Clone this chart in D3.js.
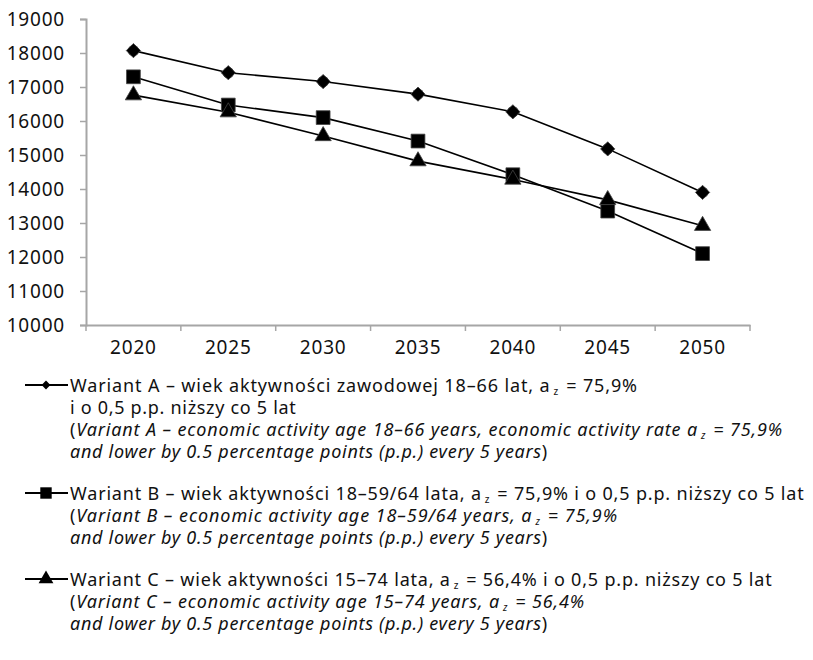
<!DOCTYPE html>
<html><head><meta charset="utf-8">
<script src="https://cdn.jsdelivr.net/npm/d3@7"></script>
<style>body{margin:0;background:#fff;} svg{display:block;}</style>
</head><body>
<svg id="chart" width="813" height="660"></svg>
<script>
const years = ["2020","2025","2030","2035","2040","2045","2050"];
const seriesA = [18070, 17420, 17160, 16790, 16270, 15180, 13900];
const seriesB = [17300, 16470, 16100, 15410, 14420, 13350, 12100];
const seriesC = [16760, 16260, 15560, 14820, 14280, 13680, 12920];
const yTicks = [10000, 11000, 12000, 13000, 14000, 15000, 16000, 17000, 18000, 19000];
const legendLines = {
  A: [
    [["Wariant A – wiek aktywności zawodowej 18–66 lat, a","n"],["z","sub"],["= 75,9%","n"]],
    [["i o 0,5 p.p. niższy co 5 lat","n"]],
    [["(","n"],["Variant A – economic activity age 18–66 years, economic activity rate a","i"],["z","subi"],["= 75,9%","i"]],
    [["and lower by 0.5 percentage points (p.p.) every 5 years","i"],[")","n"]]
  ],
  B: [
    [["Wariant B – wiek aktywności 18–59/64 lata, a","n"],["z","sub"],["= 75,9% i o 0,5 p.p. niższy co 5 lat","n"]],
    [["(","n"],["Variant B – economic activity age 18–59/64 years, a","i"],["z","subi"],["= 75,9%","i"]],
    [["and lower by 0.5 percentage points (p.p.) every 5 years","i"],[")","n"]]
  ],
  C: [
    [["Wariant C – wiek aktywności 15–74 lata, a","n"],["z","sub"],["= 56,4% i o 0,5 p.p. niższy co 5 lat","n"]],
    [["(","n"],["Variant C – economic activity age 15–74 years, a","i"],["z","subi"],["= 56,4%","i"]],
    [["and lower by 0.5 percentage points (p.p.) every 5 years","i"],[")","n"]]
  ]
};
// right edges of the legend lines as seen in the reference
const legendRight = {A: [638, 297, 783, 548], B: [805, 618, 548], C: [773, 585, 548]};

const svg = d3.select("#chart");
const font = "'Noto Sans', sans-serif";
const axisColor = "#a6a6a6";
const x = d3.scaleBand().domain(years).range([86, 750]).padding(0);
const y = d3.scaleLinear().domain([10000, 19000]).range([325, 19]);
const cx = d => x(d) + x.bandwidth() / 2;

// Y axis
const yAxis = svg.append("g").attr("transform", "translate(86,0)")
  .call(d3.axisLeft(y).tickValues(yTicks).tickSize(6).tickPadding(15).tickFormat(d3.format("d")));
yAxis.select(".domain").attr("stroke", axisColor).attr("stroke-width", 2);
yAxis.selectAll(".tick line").attr("stroke", axisColor).attr("stroke-width", 1.5);
yAxis.selectAll(".tick text").attr("font-family", font).attr("font-size", 19)
  .attr("letter-spacing", 0.8).attr("fill", "#111");

// X axis
const xAxis = svg.append("g").attr("transform", "translate(0,325)")
  .call(d3.axisBottom(x).tickSize(0).tickPadding(16));
xAxis.select(".domain").attr("stroke", axisColor).attr("stroke-width", 2);
xAxis.selectAll(".tick text").attr("font-family", font).attr("font-size", 19)
  .attr("letter-spacing", 0.8).attr("fill", "#111");
const bounds = years.map(d => x(d)).concat([x.range()[1]]);
xAxis.selectAll("line.bt").data(bounds).enter().append("line")
  .attr("x1", d => d).attr("x2", d => d).attr("y1", 0).attr("y2", 6)
  .attr("stroke", axisColor).attr("stroke-width", 1.5);

const line = d3.line().x((d, i) => cx(years[i])).y(d => y(d));
const series = [
  {key: "A", values: seriesA, shape: d3.symbolDiamond2, size: 130, lsize: 50},
  {key: "B", values: seriesB, shape: d3.symbolSquare, size: 190, lsize: 130},
  {key: "C", values: seriesC, shape: d3.symbolTriangle, size: 115, lsize: 95}
];
series.forEach(s => {
  svg.append("path").attr("d", line(s.values)).attr("fill", "none")
    .attr("stroke", "#000").attr("stroke-width", 1.6);
});
series.forEach(s => {
  const g = svg.selectAll(null).data(s.values).enter().append("g")
    .attr("transform", (d, i) => `translate(${cx(years[i])},${y(d)})`);
  if (s.key === "A") g.append("circle").attr("r", 5.6).attr("fill", "#111");
  g.append("path")
    .attr("d", d3.symbol().type(s.shape).size(s.size))
    .attr("fill", "#000").attr("stroke", "#444").attr("stroke-width", 0.8);
});

// Legend
const legendStart = {A: 385, B: 493, C: 579};
const lh = 22;
series.forEach(s => {
  const y0 = legendStart[s.key];
  svg.append("line").attr("x1", 25).attr("x2", 68).attr("y1", y0).attr("y2", y0)
    .attr("stroke", "#000").attr("stroke-width", 1.8);
  svg.append("path").attr("d", d3.symbol().type(s.shape).size(s.lsize)())
    .attr("transform", `translate(46,${y0})`).attr("fill", "#000");
  legendLines[s.key].forEach((parts, li) => {
    const t = svg.append("text").attr("x", 70).attr("y", y0 + li * lh + 6.5)
      .attr("font-family", font).attr("font-size", 18).attr("fill", "#111");
    parts.forEach(([txt, st]) => {
      const ts = t.append("tspan").text(txt);
      if (st === "i" || st === "subi") ts.attr("font-style", "italic");
      if (st === "sub" || st === "subi") {
        ts.attr("font-size", 10).attr("dy", 3).attr("dx", 3);
      }
      if (txt.startsWith("= ")) ts.attr("dy", -3).attr("dx", 7);
    });
    const natural = t.node().getBBox().width;
    const n = parts.reduce((a, p) => a + p[0].length, 0);
    const target = legendRight[s.key][li] - 70;
    t.attr("letter-spacing", ((target - natural) / n).toFixed(3));
  });
});
</script>
</body></html>
